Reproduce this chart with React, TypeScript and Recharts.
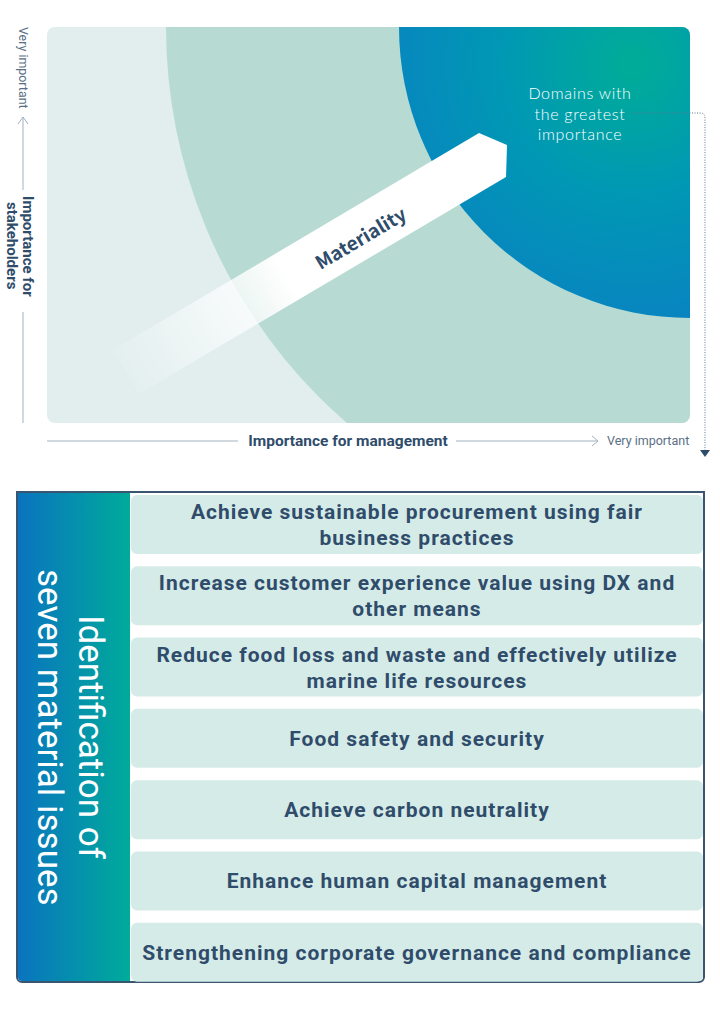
import React from 'react';
import {
  PieChart,
  Pie,
  BarChart,
  Bar,
  XAxis,
  YAxis,
  LabelList,
} from 'recharts';

// materiality zones (quarter circles from the "very important" corner)
const zoneNames = ['High importance', 'Domains with the greatest importance'];
const zoneShare = [1, 1];

// seven material issues
const issues = [
  'Achieve sustainable procurement using fair\nbusiness practices',
  'Increase customer experience value using DX and\nother means',
  'Reduce food loss and waste and effectively utilize\nmarine life resources',
  'Food safety and security',
  'Achieve carbon neutrality',
  'Enhance human capital management',
  'Strengthening corporate governance and compliance',
];
const issueWeight = [1, 1, 1, 1, 1, 1, 1];

const NAVY = '#2f4c6b';
const AXIS = '#a3b2c0';
const FONT = "'Noto Sans CJK JP', 'Noto Sans', sans-serif";
const ROW_FONT = "'Roboto', 'Noto Sans', sans-serif";
const NARROW = "'Liberation Sans Narrow', 'Roboto', sans-serif";

const MAP_W = 643;
const MAP_H = 396;

const issueData = issues.map((name, i) => ({ name, value: issueWeight[i] }));

// the white "materiality" bar laid over the zones
const MaterialityArrow = () => (
  <svg
    width={MAP_W}
    height={MAP_H}
    style={{ position: 'absolute', left: 0, top: 0, pointerEvents: 'none' }}
  >
    <defs>
      <linearGradient id="arrowFade" gradientUnits="userSpaceOnUse" x1={70} y1={350} x2={240} y2={250}>
        <stop offset="0%" stopColor="#ffffff" stopOpacity={0} />
        <stop offset="100%" stopColor="#ffffff" stopOpacity={1} />
      </linearGradient>
    </defs>
    <polygon points="66,323 432,106 460,118 459,150 92,367" fill="url(#arrowFade)" />
    <text
      x={313}
      y={210}
      transform="rotate(-30.7 313 210)"
      textAnchor="middle"
      dominantBaseline="central"
      fill={NAVY}
      fontSize={19}
      fontWeight={700}
      fontFamily={FONT}
    >
      Materiality
    </text>
  </svg>
);

const renderIssue = (props: any) => {
  const { x, y, width, height, value } = props;
  const lines = String(value).split('\n');
  const lh = 26;
  const cx = x + width / 2;
  const top = y + height / 2 - ((lines.length - 1) * lh) / 2 + 7.5;
  return (
    <g>
      {lines.map((l, i) => (
        <text
          key={i}
          x={cx}
          y={top + i * lh}
          textAnchor="middle"
          fill={NAVY}
          fontSize={21}
          fontWeight={700}
          letterSpacing={1}
          fontFamily={ROW_FONT}
        >
          {l}
        </text>
      ))}
    </g>
  );
};

export default function App() {
  return (
    <div
      style={{
        position: 'absolute',
        left: 0,
        top: 0,
        width: 720,
        height: 1022,
        background: '#fff',
        fontFamily: FONT,
      }}
    >
      {/* materiality map */}
      <div
        style={{
          position: 'absolute',
          left: 47,
          top: 27,
          width: MAP_W,
          height: MAP_H,
          borderRadius: 8,
          overflow: 'hidden',
          background: '#e2eeee',
        }}
      >
        <PieChart width={MAP_W} height={MAP_H} margin={{ top: 0, right: 0, bottom: 0, left: 0 }}>
          <defs>
            <radialGradient id="hotZone" gradientUnits="userSpaceOnUse" cx={586} cy={36} r={290}>
              <stop offset="0%" stopColor="#00ad97" />
              <stop offset="45%" stopColor="#0098b4" />
              <stop offset="100%" stopColor="#0a80c3" />
            </radialGradient>
          </defs>
          <Pie
            data={[{ name: zoneNames[0], value: zoneShare[0] }]}
            dataKey="value"
            cx={MAP_W}
            cy={0}
            innerRadius={0}
            outerRadius={524}
            startAngle={180}
            endAngle={270}
            fill="#b7dbd2"
            stroke="none"
            isAnimationActive={false}
          />
          <Pie
            data={[{ name: zoneNames[1], value: zoneShare[1] }]}
            dataKey="value"
            cx={MAP_W}
            cy={0}
            innerRadius={0}
            outerRadius={291}
            startAngle={180}
            endAngle={270}
            fill="url(#hotZone)"
            stroke="none"
            isAnimationActive={false}
          />
        </PieChart>
        <MaterialityArrow />
        <div
          style={{
            position: 'absolute',
            left: 453,
            top: 56,
            width: 160,
            textAlign: 'center',
            color: '#fff',
            fontFamily: "'Lato', sans-serif",
            fontWeight: 300,
            fontSize: 16,
            lineHeight: '20.5px',
            letterSpacing: 0.7,
          }}
        >
          Domains with
          <br />
          the greatest
          <br />
          importance
        </div>
      </div>

      {/* axes and leader line */}
      <svg
        width={720}
        height={480}
        style={{ position: 'absolute', left: 0, top: 0, pointerEvents: 'none' }}
      >
        <line x1={23} y1={117} x2={23} y2={190} stroke={AXIS} strokeWidth={1} />
        <polyline points="18,124 23,117 28,124" fill="none" stroke={AXIS} strokeWidth={1} />
        <line x1={23} y1={312} x2={23} y2={423} stroke={AXIS} strokeWidth={1} />
        <line x1={47} y1={441} x2={238} y2={441} stroke={AXIS} strokeWidth={1} />
        <line x1={456} y1={441} x2={598} y2={441} stroke={AXIS} strokeWidth={1} />
        <polyline points="592,436 598,441 592,446" fill="none" stroke={AXIS} strokeWidth={1} />
        <path
          d="M632,113 L700,113 Q705,113 705,118 L705,450"
          fill="none"
          stroke="#5e7690"
          strokeWidth={1}
          strokeDasharray="1 1.5"
        />
        <polygon points="700,450 710,450 705,457" fill="#2f4c6b" />
        <text x={348} y={446} textAnchor="middle" fill={NAVY} fontSize={15.5} fontWeight={700} fontFamily={NARROW}>
          Importance for management
        </text>
        <text x={607} y={445} fill="#5a6f85" fontSize={12.5} fontFamily={NARROW}>
          Very important
        </text>
      </svg>
      <div
        style={{
          position: 'absolute',
          left: 16,
          top: 27,
          writingMode: 'vertical-rl',
          fontSize: 12.4,
          lineHeight: '14px',
          color: '#5a6f85',
          fontFamily: NARROW,
        }}
      >
        Very important
      </div>
      <div
        style={{
          position: 'absolute',
          left: 4,
          top: 192,
          height: 108,
          writingMode: 'vertical-rl',
          textAlign: 'center',
          fontSize: 15,
          lineHeight: '16px',
          fontWeight: 700,
          color: NAVY,
          fontFamily: "'Roboto', sans-serif",
        }}
      >
        Importance for
        <br />
        stakeholders
      </div>

      {/* seven material issues */}
      <div
        style={{
          position: 'absolute',
          left: 16,
          top: 491,
          width: 689,
          height: 492,
          boxSizing: 'border-box',
          border: '2px solid #3a5570',
          borderRadius: '0 0 6px 6px',
          background: '#fff',
          overflow: 'hidden',
        }}
      >
        <div
          style={{
            position: 'absolute',
            left: 0,
            top: 0,
            width: 112,
            height: '100%',
            background: 'linear-gradient(to right, #0a74bf, #00ab9b)',
          }}
        />
        <div
          style={{
            position: 'absolute',
            left: -4,
            top: 0,
            width: 112,
            height: 488,
            display: 'flex',
            alignItems: 'center',
            justifyContent: 'center',
          }}
        >
          <div
            style={{
              writingMode: 'vertical-rl',
              textAlign: 'center',
              whiteSpace: 'nowrap',
              color: '#fff',
              fontSize: 35,
              lineHeight: '41px',
              fontFamily: "'Roboto', sans-serif",
              fontWeight: 400,
            }}
          >
            Identification of
            <br />
            seven material issues
          </div>
        </div>
      </div>
      <div style={{ position: 'absolute', left: 131, top: 489 }}>
        <BarChart
          width={572}
          height={499}
          layout="vertical"
          data={issueData}
          margin={{ top: 0, right: 0, bottom: 0, left: 0 }}
          barCategoryGap={6}
        >
          <XAxis type="number" domain={[0, 1]} hide />
          <YAxis type="category" dataKey="name" hide />
          <Bar dataKey="value" fill="#d5ebe7" radius={6} isAnimationActive={false}>
            <LabelList dataKey="name" content={renderIssue} />
          </Bar>
        </BarChart>
      </div>
    </div>
  );
}
